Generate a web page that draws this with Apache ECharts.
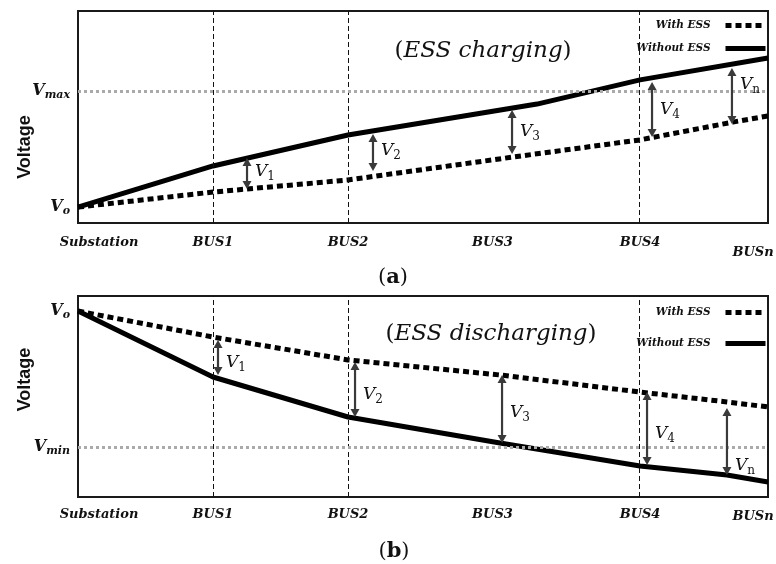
<!DOCTYPE html>
<html>
<head>
<meta charset="utf-8">
<script src="https://cdn.jsdelivr.net/npm/echarts@6/dist/echarts.min.js"></script>
<style>
html,body{margin:0;padding:0;background:#fff;}
#chart{width:776px;height:564px;}
</style>
</head>
<body>
<div id="chart"></div>
<script>
// ---------- data ----------
const busNames = ['Substation', 'BUS1', 'BUS2', 'BUS3', 'BUS4', 'BUSn'];
const busPos = [0, 1, 2, 3.07, 4.163, 5.0];
const busWithLine = [1, 2, 4.163];
const xMax = 5.111;

const topVo = 7.5, topVmax = 62.3;
const topWithX = [0, 1, 2, 3.22, 4.163, 4.85, 5.111];
const topWithV = [7.5, 14.6, 20.3, 31.1, 39.2, 47.6, 50.5];
const topWithoutX = [0, 1, 2, 3.4, 4.163, 5.111];
const topWithoutV = [7.5, 26.9, 41.5, 56.1, 67.5, 77.8];
const topArrowX = [1.252, 2.185, 3.215, 4.252, 4.844];
const topArrowHi = [30.7, 42.0, 53.3, 66.5, 73.1];
const topArrowLo = [16.0, 24.5, 32.5, 40.6, 46.7];

const botVo = 92.5, botVmin = 24.9;
const botWithX = [0, 1, 2, 3.126, 4.163, 4.807, 5.111];
const botWithV = [92.5, 79.6, 68.2, 60.7, 52.2, 47.3, 44.8];
const botWithoutX = [0, 1, 2, 3.126, 4.163, 4.807, 5.111];
const botWithoutV = [92.5, 59.7, 39.8, 26.9, 15.4, 10.9, 7.5];
const botArrowX = [1.037, 2.052, 3.141, 4.215, 4.807];
const botArrowHi = [78.1, 67.2, 60.7, 52.2, 44.3];
const botArrowLo = [60.7, 39.8, 26.9, 15.9, 10.9];

const arrowSubs = ['1', '2', '3', '4', 'n'];

// ---------- styles ----------
const SERIF = '"DejaVu Serif", "Liberation Serif", serif';
const topLabelDy = [-2, -2, 0, 0, -11];
const botLabelDy = [5, 5, 4, 5, 24];

function zip(a, b) { return a.map((v, i) => [v, b[i]]); }
function zip3(a, b, c) { return a.map((v, i) => [v, b[i], c[i]]); }

const chart = echarts.init(document.getElementById('chart'), null, {renderer: 'canvas'});

function xAxisFor(gi, margin, lastPad) {
  return {
    type: 'value', gridIndex: gi, min: 0, max: xMax,
    axisLine: {show: false}, axisTick: {show: false}, splitLine: {show: false},
    axisLabel: {
      customValues: busPos, margin: margin,
      fontFamily: SERIF, fontStyle: 'italic', fontWeight: 'bold', fontSize: 13, color: '#111',
      formatter: function (v) {
        const i = busPos.indexOf(v);
        if (i === 0) return '{f|' + busNames[0] + '}';
        if (i === busNames.length - 1) return '{l|' + busNames[i] + '}';
        return busNames[i];
      },
      rich: {
        f: {fontFamily: SERIF, fontStyle: 'italic', fontWeight: 'bold', fontSize: 13, color: '#111', padding: [0, 0, 0, 42]},
        l: {fontFamily: SERIF, fontStyle: 'italic', fontWeight: 'bold', fontSize: 13, color: '#111', padding: [lastPad, 0, 0, 0]}
      }
    }
  };
}

function yAxisFor(gi, vals, subs, namePad) {
  return {
    type: 'value', gridIndex: gi, min: 0, max: 100,
    axisLine: {show: false}, axisTick: {show: false}, splitLine: {show: false},
    name: 'Voltage', nameLocation: 'middle', nameRotate: 90, nameGap: 44, nameMoveOverlap: false,
    nameTextStyle: {fontFamily: '"Liberation Sans", Arial, sans-serif', fontWeight: 'bold', fontSize: 18, color: '#111', padding: namePad},
    axisLabel: {
      customValues: vals, margin: 8,
      formatter: function (v) { return '{v|V}{s|' + subs[vals.indexOf(v)] + '}'; },
      rich: {
        v: {fontFamily: SERIF, fontStyle: 'italic', fontWeight: 'bold', fontSize: 16, color: '#111'},
        s: {fontFamily: SERIF, fontStyle: 'italic', fontWeight: 'bold', fontSize: 11, color: '#111', verticalAlign: 'bottom', padding: [8, 0, 0, 0]}
      }
    }
  };
}

function arrowRender(dys) {
  return function (params, api) {
    const i = params.dataIndex;
    const x = api.value(0), hi = api.value(1), lo = api.value(2);
    const p1 = api.coord([x, hi]), p2 = api.coord([x, lo]);
    const h = 8, w = 4.5, c = '#3a3a3a';
    return {
      type: 'group',
      children: [
        {type: 'line', shape: {x1: p1[0], y1: p1[1] + h - 1, x2: p2[0], y2: p2[1] - h + 1}, style: {stroke: c, lineWidth: 2.2}},
        {type: 'polygon', shape: {points: [[p1[0], p1[1]], [p1[0] - w, p1[1] + h], [p1[0] + w, p1[1] + h]]}, style: {fill: c}},
        {type: 'polygon', shape: {points: [[p2[0], p2[1]], [p2[0] - w, p2[1] - h], [p2[0] + w, p2[1] - h]]}, style: {fill: c}},
        {type: 'text', x: p1[0] + 8, y: (p1[1] + p2[1]) / 2 + dys[i],
          style: {
            text: '{v|V}{s|' + arrowSubs[i] + '}', align: 'left', verticalAlign: 'middle',
            rich: {
              v: {fontFamily: SERIF, fontStyle: 'italic', fontSize: 17, fill: '#111'},
              s: {fontFamily: SERIF, fontSize: 12, fill: '#111', padding: [10, 0, 0, 0]}
            }
          }}
      ]
    };
  };
}

function guideLines(gi, hVal) {
  const d = busWithLine.map(x => ({xAxis: x, lineStyle: {color: '#111', width: 1, type: [5, 3]}}));
  d.push({yAxis: hVal, lineStyle: {color: '#aaaaaa', width: 3, type: [3, 3]}});
  return {
    type: 'line', xAxisIndex: gi, yAxisIndex: gi, data: [], z: 1, silent: true,
    markLine: {symbol: 'none', silent: true, label: {show: false}, data: d, animation: false}
  };
}

const dotted = {color: '#000', width: 5, type: [6, 4], cap: 'butt'};
const solid = {color: '#000', width: 5};

function legendFor(top, gap) {
  return {
    data: ['With ESS', 'Without ESS'], orient: 'vertical', right: 8, top: top, align: 'right',
    padding: 0, itemGap: gap, itemWidth: 40, itemHeight: 10, selectedMode: false,
    itemStyle: {opacity: 0},
    lineStyle: {width: 5, cap: 'butt'},
    textStyle: {fontFamily: SERIF, fontStyle: 'italic', fontWeight: 'bold', fontSize: 10.5, color: '#111', padding: [0, 10, 0, 0]}
  };
}

function titleRich(size) {
  return {
    p: {fontFamily: SERIF, fontWeight: 'normal', fontSize: size, color: '#111'},
    t: {fontFamily: SERIF, fontStyle: 'italic', fontWeight: 'normal', fontSize: size, color: '#111'},
    b: {fontFamily: SERIF, fontWeight: 'bold', fontSize: size, color: '#111'}
  };
}

const gridBase = {left: 78, width: 690, show: true, borderColor: '#1a1a1a', borderWidth: 2, backgroundColor: 'transparent', containLabel: false, outerBoundsMode: 'none'};

const option = {
  animation: false,
  backgroundColor: '#fff',
  color: ['#000', '#000'],
  title: [
    {text: '{p|(}{t|ESS charging}{p|)}', left: 478, top: 35, textAlign: 'center', textStyle: {fontWeight: 'normal', rich: titleRich(23)}},
    {text: '{p|(}{t|ESS discharging}{p|)}', left: 486, top: 318, textAlign: 'center', textStyle: {fontWeight: 'normal', rich: titleRich(23)}},
    {text: '{p|(}{b|a}{p|)}', left: 388, top: 262, textAlign: 'center', textStyle: {fontWeight: 'normal', rich: titleRich(21)}},
    {text: '{p|(}{b|b}{p|)}', left: 389, top: 536, textAlign: 'center', textStyle: {fontWeight: 'normal', rich: titleRich(21)}}
  ],
  legend: [legendFor(20, 12), legendFor(307, 20)],
  grid: [
    Object.assign({}, gridBase, {top: 11, height: 212}),
    Object.assign({}, gridBase, {top: 296, height: 201})
  ],
  xAxis: [xAxisFor(0, 13, 10), xAxisFor(1, 11, 2)],
  yAxis: [
    yAxisFor(0, [topVo, topVmax], ['o', 'max'], [0, 60, 0, 0]),
    yAxisFor(1, [botVo, botVmin], ['o', 'min'], [0, 0, 0, 34])
  ],
  series: [
    guideLines(0, topVmax),
    guideLines(1, botVmin),
    {name: 'With ESS', type: 'line', xAxisIndex: 0, yAxisIndex: 0, data: zip(topWithX, topWithV), symbol: 'none', itemStyle: {color: '#000'}, lineStyle: dotted, z: 3},
    {name: 'Without ESS', type: 'line', xAxisIndex: 0, yAxisIndex: 0, data: zip(topWithoutX, topWithoutV), symbol: 'none', itemStyle: {color: '#000'}, lineStyle: solid, z: 3},
    {name: 'With ESS', type: 'line', xAxisIndex: 1, yAxisIndex: 1, data: zip(botWithX, botWithV), symbol: 'none', itemStyle: {color: '#000'}, lineStyle: dotted, z: 3},
    {name: 'Without ESS', type: 'line', xAxisIndex: 1, yAxisIndex: 1, data: zip(botWithoutX, botWithoutV), symbol: 'none', itemStyle: {color: '#000'}, lineStyle: solid, z: 3},
    {type: 'custom', xAxisIndex: 0, yAxisIndex: 0, data: zip3(topArrowX, topArrowHi, topArrowLo), renderItem: arrowRender(topLabelDy), z: 5, clip: false, silent: true},
    {type: 'custom', xAxisIndex: 1, yAxisIndex: 1, data: zip3(botArrowX, botArrowHi, botArrowLo), renderItem: arrowRender(botLabelDy), z: 5, clip: false, silent: true}
  ]
};
chart.setOption(option);
</script>
</body>
</html>
